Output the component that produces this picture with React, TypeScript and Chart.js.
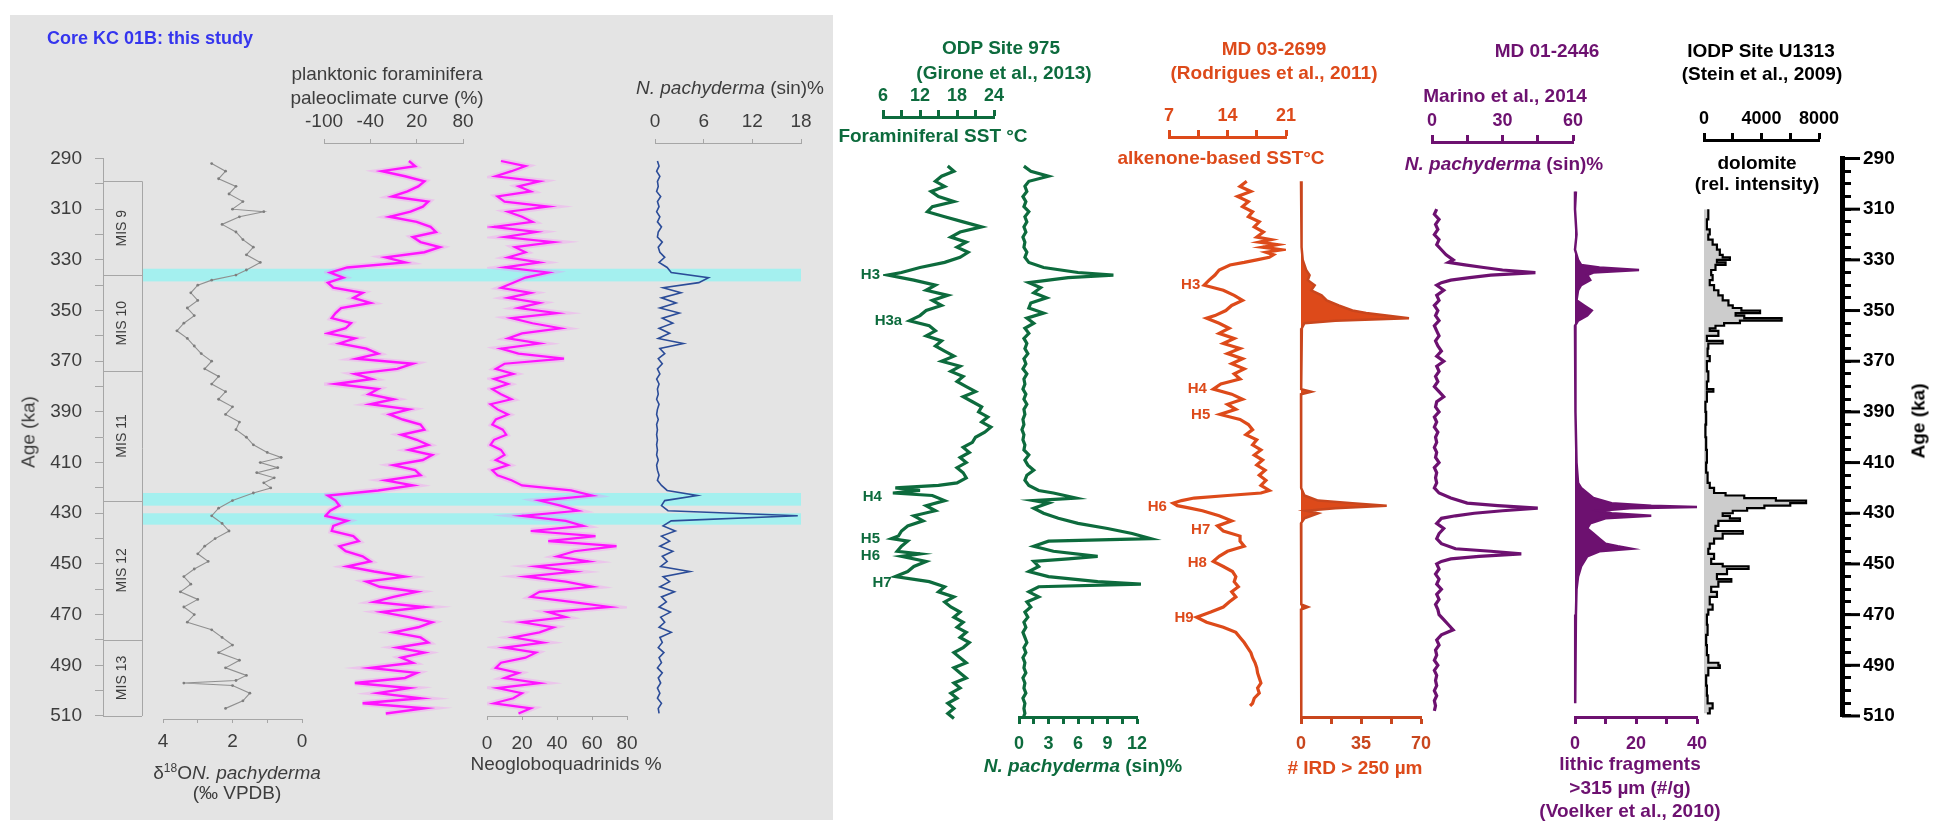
import React, { useEffect, useRef } from 'react';
import { Chart, registerables } from 'chart.js';
Chart.register(...registerables);

// ------------------------------------------------------------------ DATA
// Core KC 01B (this study), 2-ka sampling grid
const AGE_KC = [291,293,295,297,299,301,303,305,307,309,311,313,315,317,319,321,323,325,327,329,331,333,335,337,339,341,343,345,347,349,351,353,355,357,359,361,363,365,367,369,371,373,375,377,379,381,383,385,387,389,391,393,395,397,399,401,403,405,407,409,411,413,415,417,419,421,423,425,427,429,431,433,435,437,439,441,443,445,447,449,451,453,455,457,459,461,463,465,467,469,471,473,475,477,479,481,483,485,487,489,491,493,495,497,499,501,503,505,507,509];
const PALEO_KC = [10,18,-25,5,30,22,8,-12,35,28,12,-15,20,38,45,15,25,50,30,-20,5,-70,-92,-75,-95,-88,-50,-62,-40,-78,-85,-90,-65,-72,-95,-60,-80,-45,-30,-58,15,-5,-60,-38,-85,-30,-42,-10,-40,10,-15,2,25,30,0,20,35,10,40,28,-10,18,25,-20,15,-30,-95,-85,-80,-92,-98,-70,-88,-90,-62,-55,-80,-72,-50,-40,-70,-35,5,-45,-28,20,-10,-35,30,-25,10,40,22,-10,25,35,-5,30,0,15,-40,20,5,-60,10,-30,25,-50,30,-20];
const NEOG_KC = [8,22,14,5,30,18,25,6,10,35,12,20,26,4,28,10,38,16,22,12,30,10,35,22,15,8,25,12,30,18,40,14,26,42,20,12,30,8,18,44,10,5,15,4,12,3,8,14,2,6,12,5,3,9,11,4,2,8,10,5,12,3,6,14,20,48,60,30,42,52,20,45,55,25,62,35,74,50,40,58,28,50,22,45,60,30,25,48,70,35,45,20,38,30,15,32,10,28,22,8,5,18,10,30,6,20,15,4,25,18];
const NPS_KC = [0.3,0.5,0.2,0.6,0.3,0.4,0.2,0.7,0.3,0.5,0.2,0.6,0.3,0.8,0.4,0.3,0.9,0.4,0.6,1.2,0.5,1.5,2.0,6.6,5.4,1.0,3.2,0.8,2.6,0.6,3.0,0.9,2.2,0.5,1.8,0.4,3.5,0.6,1.2,0.4,0.9,0.3,0.6,0.2,0.5,0.3,0.4,0.2,0.5,0.3,0.2,0.4,0.2,0.3,0.2,0.3,0.2,0.3,0.2,0.4,0.2,0.3,0.5,0.3,0.8,1.5,5.2,1.2,0.8,1.6,17.6,2.0,1.0,2.5,0.8,1.8,0.6,2.2,0.9,1.5,0.7,4.3,1.0,1.8,0.6,2.4,0.8,1.4,0.5,1.9,0.7,1.2,0.5,2.0,0.6,0.9,0.4,1.1,0.5,0.8,0.3,0.9,0.4,0.7,0.3,0.6,0.3,0.8,0.4,0.5];
const D18_AGE = [292,295,298,301,304,307,310,311,313,316,319,322,325,328,331,334,336,338,340,343,346,349,352,355,358,361,364,367,370,373,376,379,382,385,388,391,394,397,400,403,406,408,410,412,414,416,418,420,422,425,428,431,434,437,440,443,446,449,452,455,458,461,464,467,470,473,476,479,482,485,488,491,494,496,497,498,501,504,507];
const D18_VAL = [2.6,2.2,2.4,1.9,2.1,1.7,2.0,1.1,1.8,2.3,1.9,1.7,1.4,1.6,1.2,1.6,1.9,2.6,3.0,3.2,3.0,3.3,3.1,3.4,3.6,3.3,3.1,2.9,2.6,2.8,2.4,2.6,2.2,2.4,2.0,2.2,1.8,1.9,1.6,1.4,1.0,0.6,1.2,0.7,1.3,0.8,1.1,0.9,1.4,2.0,2.4,2.6,2.3,2.1,2.5,2.8,3.0,2.7,3.1,3.4,3.2,3.5,3.0,3.4,3.1,3.3,2.6,2.3,2.0,2.4,1.8,2.2,1.6,1.9,3.4,2.0,1.5,1.7,2.2];
const MIS_BOUNDS = [299, 336, 374, 425, 480, 510];
const MIS_NAMES = ['MIS 9', 'MIS 10', 'MIS 11', 'MIS 12', 'MIS 13'];
const BAND_START = [333.5, 422, 430];
const BAND_END = [338.5, 427, 434.5];

// ODP Site 975
const G_SST_AGE = [293,295,297,299,301,303,305,307,309,311,313,315,317,319,321,323,325,327,329,331,333,335,336,338,340,342,344,346,348,350,352,354,356,358,360,362,364,366,368,370,372,374,376,378,380,382,384,386,388,390,392,394,396,398,400,402,404,406,408,410,412,414,416,418,419,420,421,422,423,425,427,429,431,433,435,437,439,440,441,443,445,446,447,449,451,453,455,457,459,461,463,465,467,469,471,473,475,477,479,481,483,485,487,489,491,493,495,497,499,501,503,505,507,509,511];
const G_SST_VAL = [16.5,17.5,15.5,14.5,16,13.8,15,17.5,14,13.2,16,19,22,18.5,17,19.5,18,19.8,18.5,16,12,9,6.8,11,14.5,13,16.5,14,15.5,13,12,10.3,13.5,14.5,13,15.5,14.5,16,17.5,15.5,18.5,17,19,18,19.5,21,19,20.5,22,21.5,23,22,23.5,22.5,21,20.5,19,20,18.5,19.5,18,19,19.5,18,15,8,12,7.6,14,16,13,14.5,11,12.5,10,9,8.5,7.4,10,9,8.3,12,9,13,11,10,8,13.5,16,15,17.5,16,17,18.5,17.5,19,18,19.5,18.5,20,19,17.5,18.5,19.5,17.5,18.5,19.5,17.5,18.5,17,18,16.5,17.5,16.5,17.5];
const G_NP_AGE = [293,295,297,299,301,303,305,307,309,311,313,315,317,319,321,323,325,327,329,331,333,335,336,337,338,339,341,343,345,347,349,351,353,355,357,359,361,363,365,367,369,371,373,375,377,379,381,383,385,387,389,391,393,395,397,399,401,403,405,407,409,411,413,415,417,419,421,422,424,425,426,428,430,432,434,436,438,440,441,443,445,447,448,449,451,453,455,457,458,459,461,463,465,467,469,471,473,475,477,479,481,483,485,487,489,491,493,495,497,499,501,503,505,507,509,511];
const G_NP_VAL = [0.5,1.2,3.0,1.0,0.6,0.8,0.4,0.7,0.5,1.0,0.6,0.8,0.5,0.7,0.4,0.6,0.5,0.8,0.6,1.0,2.5,6.0,9.6,5.0,3.0,1.0,2.2,1.5,2.8,1.2,1.0,2.5,0.8,1.5,0.6,1.0,0.5,0.8,0.6,0.9,0.5,0.7,0.4,0.8,0.5,0.6,0.4,0.7,0.5,0.8,0.5,0.6,0.4,0.5,0.3,0.5,0.4,0.6,0.5,1.0,0.6,0.9,1.5,0.8,0.6,1.0,2.0,3.5,5.8,1.5,3.0,1.5,2.5,4.0,6.0,9.0,11.5,13.4,3.0,1.5,3.5,8.0,5.0,1.5,2.0,1.0,3.0,8.0,12.4,2.0,1.0,2.0,0.8,1.2,0.6,0.9,0.5,0.7,0.4,0.6,0.8,0.5,0.7,0.4,0.6,0.5,0.7,0.4,0.6,0.5,0.7,0.4,0.6,0.5,0.6,0.4];
const G_TAGS = ['H3', 'H3a', 'H4', 'H5', 'H6', 'H7'];
const G_TAG_AGE = [336, 354, 423.5, 440, 447, 457.6];
const G_TAG_VAL = [6.0, 9.6, 6.3, 6.0, 6.0, 7.9];

// MD 03-2699
const R_SST_AGE = [299,301,303,305,307,309,311,313,315,317,319,321,322,323,324,325,326,327,328,329,330,331,332,334,336,338,340,342,344,346,348,350,352,353,355,357,359,361,363,365,367,369,371,373,375,377,379,381,383,385,387,389,391,393,395,397,399,401,403,405,407,409,411,413,415,417,419,421,422,423,424,425,426,427,428,429,431,433,435,437,439,441,443,445,447,449,451,453,455,457,459,461,463,465,467,469,471,473,475,477,479,481,483,485,487,489,491,493,495,497,499,501,503,505,506];
const R_SST_VAL = [16.3,15.5,16.8,15.2,16.5,15.8,17.0,16.5,17.8,17.2,18.3,17.5,19.2,17.8,20.0,18.2,20.5,18.6,19.5,19.0,17.5,16.0,14.3,13.0,12.5,11.8,11.2,13.5,14.8,15.8,14.5,13.8,12.5,11.5,13.0,14.2,13.0,14.8,13.5,15.5,14.0,15.8,14.5,16.0,14.8,15.5,13.2,12.3,14.5,15.8,14.0,15.0,13.1,15.5,16.5,17.0,16.2,17.5,17.0,18.0,17.2,18.2,17.5,18.5,17.8,18.6,18.0,19.0,18.0,14.0,10.0,8.5,7.5,8.0,9.5,11.0,13.0,14.5,12.8,13.5,15.5,15.5,16.0,14.0,13.0,12.3,13.5,14.6,15.0,14.8,15.3,14.5,15.0,14.2,13.5,12.0,10.3,11.5,13.5,15.0,15.5,16.0,16.4,16.8,17.0,17.3,17.5,17.6,17.8,18.0,17.6,17.8,17.2,17.0,16.7];
const R_IRD_AGE = [299,310,315,325,330,334,336,338,340,342,344,346,348,350,351,352,353,354,355,357,365,375,381,382,383,395,410,420,423,425,426,427,428,429,430,431,432,434,450,460,466,467,468,480,495,510];
const R_IRD_VAL = [0,0.5,0,0.5,1,3,5,4,8,6,12,15,22,30,38,50,63,20,2,0.5,0,0.3,0,6,0,0,0.3,0,2,10,30,50,20,3,10,6,2,0,0.5,0,0,4,0,0.5,0,0];
const R_TAGS = ['H3', 'H4', 'H5', 'H6', 'H7', 'H8', 'H9'];
const R_TAG_AGE = [340, 381, 391, 427.5, 436.6, 449.7, 471.3];
const R_TAG_VAL = [11.1, 11.9, 12.3, 7.1, 12.3, 11.9, 10.3];

// MD 01-2446
const P_NP_AGE = [310,312,314,316,318,320,322,324,326,328,330,331,332,333,334,335,336,337,338,339,340,342,344,346,348,350,352,354,356,358,360,362,364,366,368,370,372,374,376,378,380,382,384,386,388,390,392,394,396,398,400,402,404,406,408,410,412,414,416,418,420,422,424,426,427,428,429,430,431,432,434,436,438,440,442,444,445,446,447,448,449,450,452,454,456,458,460,462,464,466,468,470,472,474,476,478,480,482,484,486,488,490,492,494,496,498,500,502,504,506,508];
const P_NP_VAL = [2,1,3,1.5,2.5,1,3,2,4,6,9,7,14,22,30,44,25,16,8,4,2,5,2,3,1,2.5,1.5,3,1,2,3,1.5,2.5,4,2,5,2,3,1.5,2.5,1,3,5,2,1.5,3,1,2,1,2.5,1.5,2,1,2,1.5,3,1,2,1.5,2,1,3,8,15,28,45,30,18,10,4,2,5,3,2,4,10,25,38,20,8,4,2,3,1.5,3,2,4,2,3,1.5,2.5,3,5,7,9,4,2,3,1.5,2,1,2.5,1,2,1.5,2,1,2,1,1.5,1];
const P_LI_AGE = [303,310,320,326,330,332,333,334,335,336,338,340,342,346,348,350,352,354,356,370,390,410,418,420,422,424,426,427,427.5,428,429,430,431,432,434,436,438,440,442,443,444,445,447,449,451,453,455,460,470,480,490,505];
const P_LI_VAL = [0.3,0,0.5,0,1,2,8,21,6,4,5,2,1,0.5,3,5.5,4,1,0,0.3,0,0.5,1,2,4,6,12,25,40,18,8,12,25,10,5,4,6,8,10,14,18.5,8,4,3,2,1.5,1,0.5,0.3,0.2,0,0];

// IODP Site U1313
const DOL_AGE = [310,314,318,320,322,324,326,328,329,330,331,332,334,336,338,340,342,344,346,348,349,350,351,352,353,354,355,356,357,358,360,362,363,365,368,370,374,378,381,382,386,390,395,400,405,410,414,418,420,422,423,424,425,426,427,428,429,430,431,432,433,435,437,438,440,442,444,446,448,450,451,452,454,456,457,459,461,463,466,468,470,474,478,482,486,489,490,491,494,498,502,505,507,509];
const DOL_VAL = [300,200,400,300,600,900,1100,1300,1800,900,1500,800,500,600,400,700,1000,1300,1700,2000,2600,3900,2200,2800,5400,2500,1400,800,400,1000,200,1300,300,250,400,200,300,200,650,200,100,150,100,150,200,150,250,400,700,1500,2800,5000,7100,6000,4200,3000,2000,1300,1800,2500,1000,800,2700,1300,700,400,300,700,500,1300,3100,1600,900,1900,1000,500,900,400,600,300,200,250,150,200,300,1000,1100,300,150,200,250,600,400,200];

// Axis ticks
const AGE_TICKS_10 = [290,300,310,320,330,340,350,360,370,380,390,400,410,420,430,440,450,460,470,480,490,500,510];
const AGE_TICKS_5 = [290,295,300,305,310,315,320,325,330,335,340,345,350,355,360,365,370,375,380,385,390,395,400,405,410,415,420,425,430,435,440,445,450,455,460,465,470,475,480,485,490,495,500,505,510];
const AGE_LABELS = [290,310,330,350,370,390,410,430,450,470,490,510];
const D18_TICKS = [0,1,2,3,4]; const D18_LABELS = [0,2,4];
const PALEO_TICKS = [-100,-40,20,80];
const NEOG_TICKS = [0,20,40,60,80];
const NPS_TICKS = [0,6,12,18];
const G_SST_TICKS = [6,9,12,15,18,21,24]; const G_SST_LABELS = [6,12,18,24];
const G_NP_TICKS = [0,1.5,3,4.5,6,7.5,9,10.5,12]; const G_NP_LABELS = [0,3,6,9,12];
const R_SST_TICKS = [7,10.5,14,17.5,21]; const R_SST_LABELS = [7,14,21];
const R_IRD_TICKS = [0,17.5,35,52.5,70]; const R_IRD_LABELS = [0,35,70];
const P_NP_TICKS = [0,15,30,45,60]; const P_NP_LABELS = [0,30,60];
const P_LI_TICKS = [0,10,20,30,40]; const P_LI_LABELS = [0,20,40];
const DOL_TICKS = [0,2000,4000,6000,8000]; const DOL_LABELS = [0,4000,8000];

// ------------------------------------------------------------------ LAYOUT / STYLE
const PAGE_W = 1954, PAGE_H = 827;
const AGE_TOP_PX = 158.5, PX_PER_KA = 2.534;
const ageAt = (px: number) => 290 + (px - AGE_TOP_PX) / PX_PER_KA;
const FONT = "'Liberation Sans', Arial, sans-serif";
const GREEN = '#0d6b3d', RED = '#dd4a1a', RED_D = '#c9461d', PURPLE = '#6d1170', BLUE = '#2b4c98', PINK = '#ff14ff';
const GREY_TXT = '#3d3d3d', GREY_LINE = '#a6a6a6';

const pts = (ages: number[], vals: number[]) => ages.map((a, i) => ({ x: vals[i], y: a }));
const lineDs = (ages: number[], vals: number[], color: string, width: number, extra: any = {}) => ({
  data: pts(ages, vals), borderColor: color, backgroundColor: color, borderWidth: width,
  pointRadius: 0, fill: false, tension: 0, ...extra,
});

const leftAx = (pos: string, ticks: number[], labels: number[], pad: number) => ({
  pos, ticks, labels, pad, color: GREY_LINE, text: GREY_TXT, size: 19, weight: 'normal', lineW: 1, tickLen: 4, tickW: 1,
});
const colAx = (pos: string, ticks: number[], labels: number[], color: string, pad: number) => ({
  pos, ticks, labels, pad, color, text: color, size: 18, weight: 'bold', lineW: 3, tickLen: 7, tickW: 3,
});

// ------------------------------------------------------------------ PLUGINS
const bandPlugin = {
  id: 'bands',
  beforeDatasetsDraw(chart: any) {
    const { ctx, chartArea: a, scales: { y } } = chart;
    ctx.save();
    ctx.fillStyle = '#a4f0ef';
    BAND_START.forEach((s, i) => {
      const y0 = y.getPixelForValue(s), y1 = y.getPixelForValue(BAND_END[i]);
      ctx.fillRect(a.left, y0, a.right - a.left, y1 - y0);
    });
    ctx.restore();
  },
};
const misPlugin = {
  id: 'mis',
  afterDraw(chart: any) {
    const { ctx, chartArea: a, scales: { y } } = chart;
    ctx.save();
    ctx.strokeStyle = GREY_LINE; ctx.lineWidth = 1;
    const yt = y.getPixelForValue(MIS_BOUNDS[0]), yb = y.getPixelForValue(MIS_BOUNDS[MIS_BOUNDS.length - 1]);
    ctx.beginPath(); ctx.moveTo(a.right + 0.5, yt); ctx.lineTo(a.right + 0.5, yb); ctx.stroke();
    MIS_BOUNDS.forEach((b) => {
      const yy = Math.round(y.getPixelForValue(b)) + 0.5;
      ctx.beginPath(); ctx.moveTo(a.left, yy); ctx.lineTo(a.right, yy); ctx.stroke();
    });
    ctx.fillStyle = GREY_TXT; ctx.font = `14px ${FONT}`; ctx.textAlign = 'center'; ctx.textBaseline = 'middle';
    MIS_NAMES.forEach((n, i) => {
      const ym = y.getPixelForValue((MIS_BOUNDS[i] + MIS_BOUNDS[i + 1]) / 2);
      ctx.save(); ctx.translate((a.left + a.right) / 2, ym); ctx.rotate(-Math.PI / 2); ctx.fillText(n, 0, 0); ctx.restore();
    });
    ctx.restore();
  },
};
const majorTickPlugin = {
  id: 'majorTicks',
  afterDraw(chart: any) {
    const { ctx, chartArea: a, scales: { y } } = chart;
    ctx.save();
    ctx.strokeStyle = '#000'; ctx.lineWidth = 3;
    AGE_LABELS.forEach((v) => {
      const yy = y.getPixelForValue(v);
      ctx.beginPath(); ctx.moveTo(a.right, yy); ctx.lineTo(a.right + 18, yy); ctx.stroke();
    });
    ctx.restore();
  },
};
const tagPlugin = (tags: string[], ages: number[], vals: number[], color: string) => ({
  id: 'tags',
  afterDatasetsDraw(chart: any) {
    const { ctx, scales: { x, y } } = chart;
    ctx.save();
    ctx.fillStyle = color; ctx.font = `bold 15px ${FONT}`; ctx.textAlign = 'right'; ctx.textBaseline = 'middle';
    tags.forEach((t, i) => ctx.fillText(t, x.getPixelForValue(vals[i]) - 3, y.getPixelForValue(ages[i])));
    ctx.restore();
  },
});

// ------------------------------------------------------------------ PANEL SPECS (page px)
const SPECS: any[] = [
  { id: 'bands', cl: 0, cw: 840, x0: 142, x1: 801, top: AGE_TOP_PX, bottom: 716, xMin: 0, xMax: 1, datasets: [], plugins: [bandPlugin] },
  { id: 'ageL', cl: 0, cw: 200, x0: 103, x1: 142, top: AGE_TOP_PX, bottom: 716, xMin: 0, xMax: 1, datasets: [], plugins: [misPlugin],
    ageAxis: { pos: 'left', box: 60, ticks: AGE_TICKS_10, labels: AGE_LABELS, color: GREY_LINE, text: GREY_TXT, size: 19, weight: 'normal', lineW: 1, tickLen: 8, tickW: 1, pad: 13 } },
  { id: 'd18', cl: 100, cw: 270, x0: 163, x1: 302, top: AGE_TOP_PX, bottom: 719, xMin: 0, xMax: 4, reverse: true,
    axis: leftAx('bottom', D18_TICKS, D18_LABELS, 7),
    datasets: [lineDs(D18_AGE, D18_VAL, '#909090', 1.1, { pointRadius: 1.4, pointBorderWidth: 0, pointBackgroundColor: '#7e7e7e' })] },
  { id: 'paleo', cl: 260, cw: 270, x0: 324, x1: 463, top: 143, bottom: 716, xMin: -100, xMax: 80,
    axis: leftAx('top', PALEO_TICKS, PALEO_TICKS, 6),
    datasets: [lineDs(AGE_KC, PALEO_KC, PINK, 2.4), lineDs(AGE_KC, PALEO_KC, 'rgba(255,120,255,0.28)', 6)] },
  { id: 'neog', cl: 420, cw: 280, x0: 487, x1: 627, top: AGE_TOP_PX, bottom: 716, xMin: 0, xMax: 80,
    axis: leftAx('bottom', NEOG_TICKS, NEOG_TICKS, 12),
    datasets: [lineDs(AGE_KC, NEOG_KC, PINK, 2.2), lineDs(AGE_KC, NEOG_KC, 'rgba(255,120,255,0.28)', 6)] },
  { id: 'nps', cl: 600, cw: 260, x0: 655, x1: 801, top: 143, bottom: 716, xMin: 0, xMax: 18,
    axis: leftAx('top', NPS_TICKS, NPS_TICKS, 6),
    datasets: [lineDs(AGE_KC, NPS_KC, BLUE, 1.6)] },
  { id: 'gsst', cl: 820, cw: 240, x0: 883, x1: 994, top: 117, bottom: 730, xMin: 6, xMax: 24,
    axis: colAx('top', G_SST_TICKS, G_SST_LABELS, GREEN, 3),
    datasets: [lineDs(G_SST_AGE, G_SST_VAL, GREEN, 3.2)], plugins: [tagPlugin(G_TAGS, G_TAG_AGE, G_TAG_VAL, GREEN)] },
  { id: 'gnp', cl: 975, cw: 220, x0: 1019, x1: 1137, top: 150, bottom: 717, xMin: 0, xMax: 12,
    axis: colAx('bottom', G_NP_TICKS, G_NP_LABELS, GREEN, 9),
    datasets: [lineDs(G_NP_AGE, G_NP_VAL, GREEN, 3.2, { clip: false })] },
  { id: 'rsst', cl: 1110, cw: 240, x0: 1169, x1: 1286, top: 137, bottom: 730, xMin: 7, xMax: 21,
    axis: colAx('top', R_SST_TICKS, R_SST_LABELS, RED, 3),
    datasets: [lineDs(R_SST_AGE, R_SST_VAL, RED, 3.2)], plugins: [tagPlugin(R_TAGS, R_TAG_AGE, R_TAG_VAL, RED)] },
  { id: 'rird', cl: 1250, cw: 230, x0: 1301, x1: 1421, top: 150, bottom: 717, xMin: 0, xMax: 70,
    axis: colAx('bottom', R_IRD_TICKS, R_IRD_LABELS, RED_D, 9),
    datasets: [lineDs(R_IRD_AGE, R_IRD_VAL, RED_D, 2.5, { fill: 'origin', backgroundColor: RED, clip: false })] },
  { id: 'pnp', cl: 1380, cw: 250, x0: 1432, x1: 1573, top: 142, bottom: 730, xMin: 0, xMax: 60,
    axis: colAx('top', P_NP_TICKS, P_NP_LABELS, PURPLE, 3),
    datasets: [lineDs(P_NP_AGE, P_NP_VAL, PURPLE, 3.2)] },
  { id: 'pli', cl: 1525, cw: 230, x0: 1575, x1: 1697, top: 150, bottom: 717, xMin: 0, xMax: 40,
    axis: colAx('bottom', P_LI_TICKS, P_LI_LABELS, PURPLE, 9),
    datasets: [lineDs(P_LI_AGE, P_LI_VAL, PURPLE, 2.5, { fill: 'origin', clip: false })] },
  { id: 'dolo', cl: 1650, cw: 230, x0: 1704, x1: 1819, top: 140, bottom: 730, xMin: 0, xMax: 8000,
    axis: colAx('top', DOL_TICKS, DOL_LABELS, '#000', 3),
    datasets: [lineDs(DOL_AGE, DOL_VAL, '#000', 2.2, { fill: 'origin', backgroundColor: 'rgba(195,195,195,0.85)', stepped: 'after' })] },
  { id: 'ageR', cl: 1780, cw: 174, x0: 1800, x1: 1842, top: AGE_TOP_PX, bottom: 716, xMin: 0, xMax: 1, datasets: [], plugins: [majorTickPlugin],
    ageAxis: { pos: 'right', box: 70, ticks: AGE_TICKS_5, labels: AGE_LABELS, color: '#000', text: '#000', size: 19, weight: 'bold', lineW: 5, tickLen: 9, tickW: 3, pad: 12 } },
];

// ------------------------------------------------------------------ CHART BUILDER
const AXIS_H = 36;
function buildConfig(s: any) {
  const ax = s.axis, ag = s.ageAxis;
  const padTop = s.top - (ax && ax.pos === 'top' ? AXIS_H : 0);
  const padBottom = PAGE_H - s.bottom - (ax && ax.pos === 'bottom' ? AXIS_H : 0);
  const padLeft = s.x0 - s.cl - (ag && ag.pos === 'left' ? ag.box : 0);
  const padRight = s.cl + s.cw - s.x1 - (ag && ag.pos === 'right' ? ag.box : 0);

  const styled = (a: any) => ({
    border: { display: true, color: a.color, width: a.lineW },
    grid: { display: true, drawOnChartArea: false, drawTicks: true, tickLength: a.tickLen, tickWidth: a.tickW, tickColor: a.color, color: a.color },
    ticks: {
      autoSkip: false, maxRotation: 0, minRotation: 0, padding: a.pad, color: a.text,
      font: { family: FONT, size: a.size, weight: a.weight },
      callback: (v: number) => (a.labels.includes(v) ? String(v) : ''),
    },
    afterBuildTicks: (sc: any) => { sc.ticks = a.ticks.map((v: number) => ({ value: v })); },
  });

  const x: any = { type: 'linear', min: s.xMin, max: s.xMax, reverse: !!s.reverse, display: !!ax };
  if (ax) Object.assign(x, styled(ax), { position: ax.pos, afterFit: (sc: any) => { sc.height = AXIS_H; } });
  const y: any = { type: 'linear', min: ageAt(s.top), max: ageAt(s.bottom), reverse: true, display: !!ag };
  if (ag) Object.assign(y, styled(ag), { position: ag.pos, afterFit: (sc: any) => { sc.width = ag.box; } });

  return {
    type: 'line',
    data: { datasets: s.datasets },
    options: {
      animation: false, responsive: false, devicePixelRatio: 1, events: [], indexAxis: 'y',
      layout: { padding: { top: padTop, bottom: padBottom, left: padLeft, right: padRight } },
      plugins: { legend: { display: false }, tooltip: { enabled: false }, title: { display: false } },
      scales: { x, y },
    },
    plugins: s.plugins || [],
  } as any;
}

function Strip({ s }: { s: any }) {
  const ref = useRef<HTMLCanvasElement>(null);
  useEffect(() => {
    const chart = new Chart(ref.current as HTMLCanvasElement, buildConfig(s));
    return () => chart.destroy();
  }, []);
  return <canvas ref={ref} width={s.cw} height={PAGE_H}
    style={{ position: 'absolute', left: s.cl, top: 0, width: s.cw, height: PAGE_H }} />;
}

function Txt({ x, y, c, size = 19, w = 'bold', rot = 0, start = false, children }: any) {
  return (
    <div style={{
      position: 'absolute', left: x, top: y, color: c, fontSize: size, fontWeight: w, lineHeight: 1,
      whiteSpace: 'nowrap', transform: `translate(${start ? '0' : '-50%'}, -50%) rotate(${rot}deg)`,
    }}>{children}</div>
  );
}

export default function App() {
  return (
    <div style={{ position: 'fixed', left: 0, top: 0, width: PAGE_W, height: PAGE_H, background: '#fff', overflow: 'hidden', fontFamily: FONT }}>
      <div style={{ position: 'absolute', left: 10, top: 15, width: 823, height: 805, background: '#e4e4e4' }} />
      {SPECS.map((s) => <Strip key={s.id} s={s} />)}

      {/* left panel texts */}
      <Txt x={47} y={38} c="#3535ee" size={18} start>Core KC 01B: this study</Txt>
      <Txt x={387} y={73} c={GREY_TXT} w="normal">planktonic foraminifera</Txt>
      <Txt x={387} y={97} c={GREY_TXT} w="normal">paleoclimate curve (%)</Txt>
      <Txt x={730} y={87} c={GREY_TXT} w="normal"><i>N. pachyderma</i> (sin)%</Txt>
      <Txt x={28} y={432} c={GREY_TXT} w="normal" rot={-90}>Age (ka)</Txt>
      <Txt x={237} y={772} c={GREY_TXT} w="normal">δ<sup style={{ fontSize: 12 }}>18</sup>O<i>N. pachyderma</i></Txt>
      <Txt x={237} y={792} c={GREY_TXT} w="normal">(‰ VPDB)</Txt>
      <Txt x={566} y={763} c={GREY_TXT} w="normal">Neogloboquadrinids %</Txt>

      {/* ODP 975 */}
      <Txt x={1001} y={47} c={GREEN}>ODP Site 975</Txt>
      <Txt x={1004} y={72} c={GREEN}>(Girone et al., 2013)</Txt>
      <Txt x={933} y={135} c={GREEN}>Foraminiferal SST °C</Txt>
      <Txt x={1083} y={765} c={GREEN}><i>N. pachyderma</i> (sin)%</Txt>

      {/* MD 03-2699 */}
      <Txt x={1274} y={48} c={RED}>MD 03-2699</Txt>
      <Txt x={1274} y={72} c={RED}>(Rodrigues et al., 2011)</Txt>
      <Txt x={1221} y={157} c={RED}>alkenone-based SST°C</Txt>
      <Txt x={1355} y={767} c={RED}># IRD &gt; 250 µm</Txt>

      {/* MD 01-2446 */}
      <Txt x={1547} y={50} c={PURPLE}>MD 01-2446</Txt>
      <Txt x={1505} y={95} c={PURPLE}>Marino et al., 2014</Txt>
      <Txt x={1504} y={163} c={PURPLE}><i>N. pachyderma</i> (sin)%</Txt>
      <Txt x={1630} y={763} c={PURPLE}>lithic fragments</Txt>
      <Txt x={1630} y={787} c={PURPLE}>&gt;315 µm (#/g)</Txt>
      <Txt x={1630} y={810} c={PURPLE}>(Voelker et al., 2010)</Txt>

      {/* U1313 */}
      <Txt x={1761} y={50} c="#000">IODP Site U1313</Txt>
      <Txt x={1762} y={73} c="#000">(Stein et al., 2009)</Txt>
      <Txt x={1757} y={162} c="#000">dolomite</Txt>
      <Txt x={1757} y={183} c="#000">(rel. intensity)</Txt>
      <Txt x={1918} y={421} c="#000" rot={-90}>Age (ka)</Txt>
    </div>
  );
}
